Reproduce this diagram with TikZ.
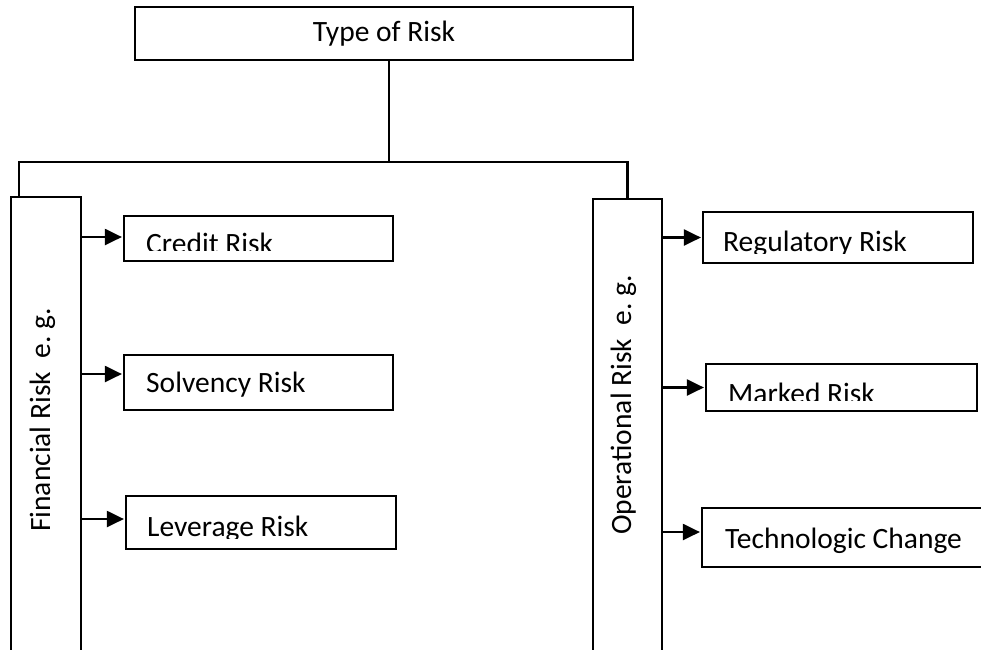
\documentclass[tikz,border=0pt]{standalone}
\usepackage{fontspec}
\setmainfont{Carlito}
\usetikzlibrary{arrows.meta}
\tikzset{
  riskbox/.style={draw, line width=2.2pt, inner sep=0pt},
  risktext/.style={anchor=base west, inner sep=0pt},
  flow/.style={-{Triangle[length=17pt,width=16pt]}, line width=2.2pt, shorten >=1pt},
}
\begin{document}
\begin{tikzpicture}[x=1pt, y=-1pt, every node/.style={font=\fontsize{29.5}{35}\selectfont}]
    \useasboundingbox (0,0) rectangle (981,649);
    \clip (0,0) rectangle (981,649);

    %type of risk
    \node[riskbox, minimum width=498pt, minimum height=53pt] (type) at (384,33.5) {Type of Risk};

    %financial + operational
    \node[riskbox, minimum width=70pt, minimum height=463pt] (fin) at (46,428.5) {};
    \node[riskbox, minimum width=69pt, minimum height=461pt] (ops) at (627.5,429.5) {};
    \node[risktext, rotate=90] (finlbl) at (50,532) {Financial Risk\ \ e.\ g.};
    \node[risktext, rotate=90] (opslbl) at (631,535) {Operational Risk\ \ e.\ g.};

    %tree
    \coordinate (stem) at (389,60);
    \coordinate (split) at (389,162);
    \coordinate (finjoin) at (19,197);
    \draw[line width=2.2pt] (stem) -- (split);
    \draw[line width=2.2pt] (finjoin) |- (split) -| (ops.north);

    %financial risks
    \node[riskbox, minimum width=269pt, minimum height=45pt] (credit) at (258.5,238.5) {};
    \node[riskbox, minimum width=269pt, minimum height=55pt] (solv) at (258.5,382.5) {};
    \node[riskbox, minimum width=270pt, minimum height=53pt] (lev) at (261,522.5) {};
    \begin{scope}
        \clip (124,216) rectangle (393,250);
        \node[risktext] (creditlbl) at (146,253.5) {Credit Risk};
    \end{scope}
    \node[risktext] (solvlbl) at (146,392) {Solvency Risk};
    \begin{scope}
        \clip (126,496) rectangle (396,538);
        \node[risktext] (levlbl) at (147,536.4) {Leverage Risk};
    \end{scope}

    %operational risks
    \node[riskbox, minimum width=270pt, minimum height=51pt] (reg) at (838,237.5) {};
    \node[riskbox, minimum width=271pt, minimum height=47pt] (mark) at (841.5,387.5) {};
    \node[riskbox, minimum width=288pt, minimum height=59pt] (tech) at (846,537.5) {};
    \begin{scope}
        \clip (703,212) rectangle (973,253);
        \node[risktext] (reglbl) at (723,251.7) {Regulatory Risk};
    \end{scope}
    \begin{scope}
        \clip (706,364) rectangle (977,400.7);
        \node[risktext] (marklbl) at (728,403.7) {Marked Risk};
    \end{scope}
    \node[risktext] (techlbl) at (725,548) {Technologic Change};

    %arrows
    \draw[flow, transform canvas={yshift=1.5pt}] (fin.east |- credit.west) -- (credit.west);
    \draw[flow, transform canvas={yshift=8.5pt}] (fin.east |- solv.west) -- (solv.west);
    \draw[flow, transform canvas={yshift=3.5pt}] (fin.east |- lev.west) -- (lev.west);
    \draw[flow] (ops.east |- reg.west) -- (reg.west);
    \draw[flow] (ops.east |- mark.west) -- (mark.west);
    \draw[flow, transform canvas={yshift=5.5pt}] (ops.east |- tech.west) -- (tech.west);

\end{tikzpicture}
\end{document}
